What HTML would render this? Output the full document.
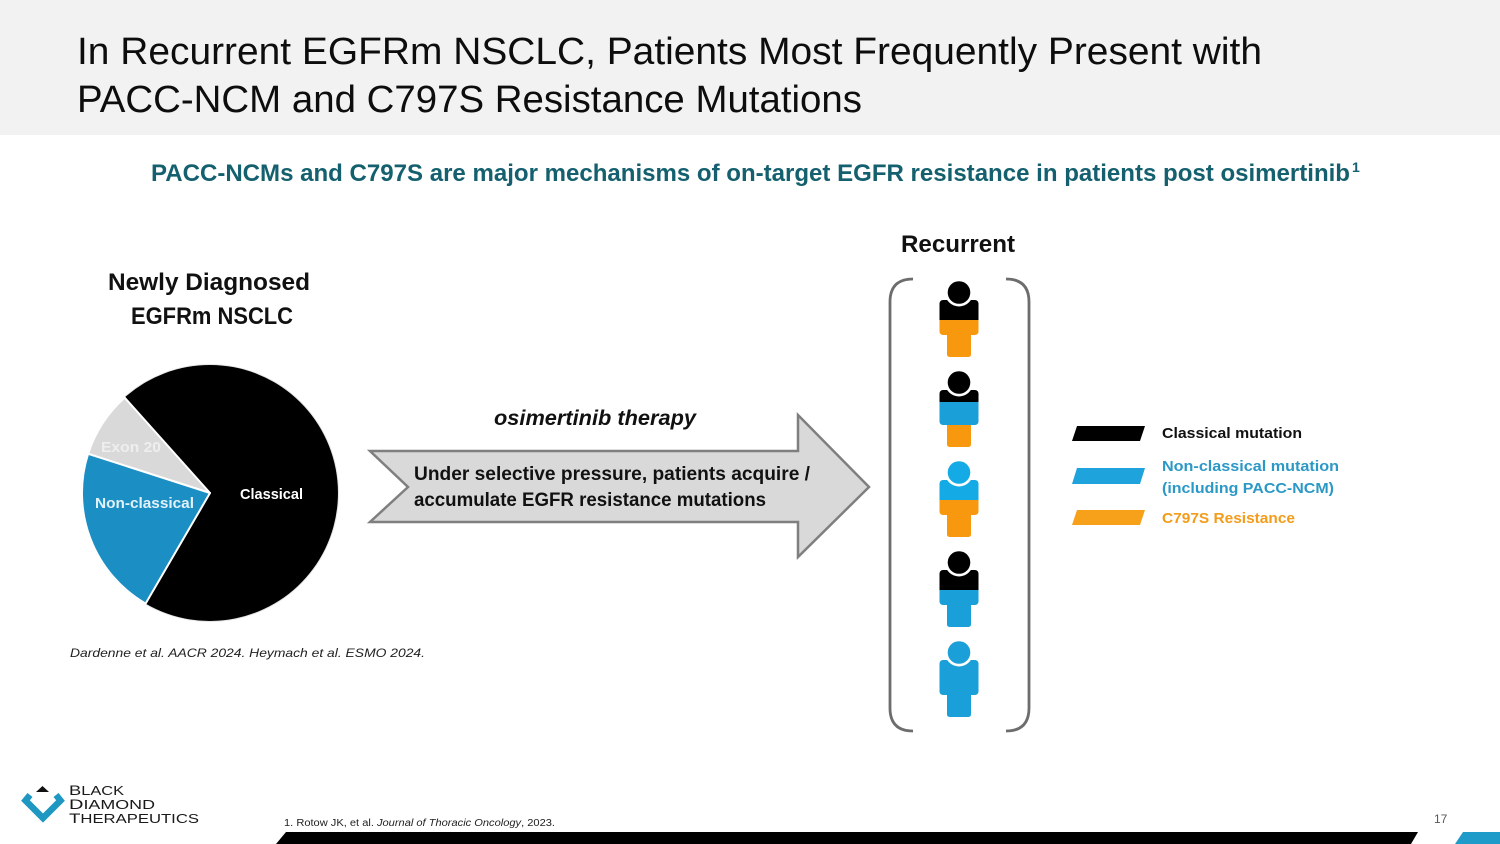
<!DOCTYPE html>
<html><head><meta charset="utf-8"><style>
html,body{margin:0;padding:0;background:#fff;}
svg{display:block;}
text{font-family:"Liberation Sans",sans-serif;}
</style></head><body>
<svg width="1500" height="844" viewBox="0 0 1500 844" xmlns="http://www.w3.org/2000/svg">
<defs>
<clipPath id="b">
<rect x="-19.5" y="19" width="39" height="35" rx="3.5"/>
<rect x="-12" y="40" width="24" height="36" rx="2.5"/>
</clipPath>
</defs>
<rect x="0" y="0" width="1500" height="844" fill="#fff"/>
<rect x="0" y="0" width="1500" height="135" fill="#f2f2f2"/>
<text x="77" y="64" font-size="38" fill="#0d0d0d" textLength="1185" lengthAdjust="spacingAndGlyphs">In Recurrent EGFRm NSCLC, Patients Most Frequently Present with</text>
<text x="77" y="112" font-size="38" fill="#0d0d0d" textLength="785" lengthAdjust="spacingAndGlyphs">PACC-NCM and C797S Resistance Mutations</text>
<text x="151" y="181" font-size="24" font-weight="bold" fill="#14606e" textLength="1199" lengthAdjust="spacingAndGlyphs">PACC-NCMs and C797S are major mechanisms of on-target EGFR resistance in patients post osimertinib</text>
<text x="1352" y="172" font-size="14" font-weight="bold" fill="#14606e">1</text>

<text x="108" y="290" font-size="24" font-weight="bold" fill="#111" textLength="202" lengthAdjust="spacingAndGlyphs">Newly Diagnosed</text>
<text x="131" y="324" font-size="24" font-weight="bold" fill="#111" textLength="162" lengthAdjust="spacingAndGlyphs">EGFRm NSCLC</text>

<!-- pie -->
<circle cx="210" cy="493" r="129" fill="#e6e6e6"/>
<path d="M210 493 L124.6 397.6 A128 128 0 1 1 145.6 603.6 Z" fill="#000"/>
<path d="M210 493 L88.1 453.8 A128 128 0 0 1 124.6 397.6 Z" fill="#d9d9d9" stroke="#fff" stroke-width="2" stroke-linejoin="round"/>
<path d="M210 493 L145.6 603.6 A128 128 0 0 1 88.1 453.8 Z" fill="#1b8fc4" stroke="#fff" stroke-width="2" stroke-linejoin="round"/>
<text x="101" y="452" font-size="15" font-weight="bold" fill="#eeeeee" textLength="60" lengthAdjust="spacingAndGlyphs">Exon 20</text>
<text x="95" y="508" font-size="15" font-weight="bold" fill="#e2f2fa" textLength="99" lengthAdjust="spacingAndGlyphs">Non-classical</text>
<text x="240" y="499" font-size="15" font-weight="bold" fill="#fff" textLength="63" lengthAdjust="spacingAndGlyphs">Classical</text>

<text x="70" y="657" font-size="12" font-style="italic" fill="#222" textLength="355" lengthAdjust="spacingAndGlyphs">Dardenne et al. AACR 2024.  Heymach et al. ESMO 2024.</text>

<!-- arrow -->
<text x="494" y="425" font-size="21" font-weight="bold" font-style="italic" fill="#111" textLength="202" lengthAdjust="spacingAndGlyphs">osimertinib therapy</text>
<polygon points="370,451 798,451 798,415 869,487 798,557 798,522 370,522 408,487" fill="#d9d9d9" stroke="#7f7f7f" stroke-width="2.5" stroke-linejoin="miter"/>
<text x="414" y="480" font-size="19" font-weight="bold" fill="#111" textLength="396" lengthAdjust="spacingAndGlyphs">Under selective pressure, patients acquire /</text>
<text x="414" y="506" font-size="19" font-weight="bold" fill="#111" textLength="352" lengthAdjust="spacingAndGlyphs">accumulate EGFR resistance mutations</text>

<!-- recurrent -->
<text x="901" y="252" font-size="24" font-weight="bold" fill="#111" textLength="114" lengthAdjust="spacingAndGlyphs">Recurrent</text>
<path d="M913 279 Q890 279 890 302 L890 708 Q890 731 913 731" fill="none" stroke="#6d6d6d" stroke-width="2.8"/>
<path d="M1006 279 Q1029 279 1029 302 L1029 708 Q1029 731 1006 731" fill="none" stroke="#6d6d6d" stroke-width="2.8"/>

<!-- figure 1 -->
<g transform="translate(959,281)">
<g clip-path="url(#b)"><rect x="-25" y="0" width="50" height="39" fill="#000"/><rect x="-25" y="39" width="50" height="45" fill="#f7980f"/></g>
<circle cx="0" cy="11.5" r="14" fill="#fff"/><circle cx="0" cy="11.5" r="11.3" fill="#000"/>
</g>
<!-- figure 2 -->
<g transform="translate(959,371)">
<g clip-path="url(#b)"><rect x="-25" y="0" width="50" height="31" fill="#000"/><rect x="-25" y="31" width="50" height="23" fill="#1a9fd9"/><rect x="-25" y="54" width="50" height="30" fill="#f7980f"/></g>
<circle cx="0" cy="11.5" r="14" fill="#fff"/><circle cx="0" cy="11.5" r="11.3" fill="#000"/>
</g>
<!-- figure 3 -->
<g transform="translate(959,461)">
<g clip-path="url(#b)"><rect x="-25" y="0" width="50" height="39" fill="#14aae6"/><rect x="-25" y="39" width="50" height="45" fill="#f7980f"/></g>
<circle cx="0" cy="11.5" r="14" fill="#fff"/><circle cx="0" cy="11.5" r="11.3" fill="#14aae6"/>
</g>
<!-- figure 4 -->
<g transform="translate(959,551)">
<g clip-path="url(#b)"><rect x="-25" y="0" width="50" height="39" fill="#000"/><rect x="-25" y="39" width="50" height="45" fill="#1a9fd9"/></g>
<circle cx="0" cy="11.5" r="14" fill="#fff"/><circle cx="0" cy="11.5" r="11.3" fill="#000"/>
</g>
<!-- figure 5 -->
<g transform="translate(959,641)">
<g clip-path="url(#b)"><rect x="-25" y="0" width="50" height="84" fill="#1a9fd9"/></g>
<circle cx="0" cy="11.5" r="14" fill="#fff"/><circle cx="0" cy="11.5" r="11.3" fill="#1a9fd9"/>
</g>

<!-- legend -->
<polygon points="1077,426 1145,426 1140,441 1072,441" fill="#000"/>
<polygon points="1077,468 1145,468 1140,484 1072,484" fill="#1fa3dc"/>
<polygon points="1077,510 1145,510 1140,525 1072,525" fill="#f7a11a"/>
<text x="1162" y="438" font-size="15" font-weight="bold" fill="#111" textLength="140" lengthAdjust="spacingAndGlyphs">Classical mutation</text>
<text x="1162" y="471" font-size="15" font-weight="bold" fill="#2b98c6" textLength="177" lengthAdjust="spacingAndGlyphs">Non-classical mutation</text>
<text x="1162" y="493" font-size="15" font-weight="bold" fill="#2b98c6" textLength="172" lengthAdjust="spacingAndGlyphs">(including PACC-NCM)</text>
<text x="1162" y="523" font-size="15" font-weight="bold" fill="#f39c1b" textLength="133" lengthAdjust="spacingAndGlyphs">C797S Resistance</text>

<!-- footer -->
<polygon points="36,792 42.5,786 49,792" fill="#111"/>
<path d="M30 795 L25.5 800.5 L43 818 L60.5 800.5 L56 795" fill="none" stroke="#1e97c2" stroke-width="6.5" stroke-linejoin="miter"/>
<text x="69" y="795" font-size="12.5" fill="#1a1a1a" textLength="55" lengthAdjust="spacingAndGlyphs"><tspan font-size="14">B</tspan>LACK</text>
<text x="69" y="809" font-size="12.5" fill="#1a1a1a" textLength="86" lengthAdjust="spacingAndGlyphs"><tspan font-size="14">D</tspan>IAMOND</text>
<text x="69" y="823" font-size="12.5" fill="#1a1a1a" textLength="130" lengthAdjust="spacingAndGlyphs"><tspan font-size="14">T</tspan>HERAPEUTICS</text>

<text x="284" y="826" font-size="10" fill="#222" textLength="271" lengthAdjust="spacingAndGlyphs">1. Rotow JK, et al. <tspan font-style="italic">Journal of Thoracic Oncology</tspan>, 2023.</text>
<text x="1434" y="823" font-size="12" fill="#595959">17</text>
<polygon points="286,832 1418,832 1411,844 276,844" fill="#000"/>
<polygon points="1463,832 1500,832 1500,844 1455,844" fill="#1e9bc8"/>
</svg>
</body></html>
